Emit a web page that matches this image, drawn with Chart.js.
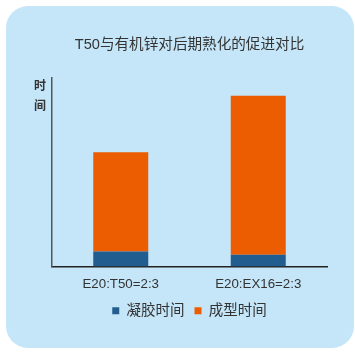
<!DOCTYPE html>
<html>
<head>
<meta charset="utf-8">
<script src="https://cdn.jsdelivr.net/npm/chart.js@4"></script>
<style>
html,body{margin:0;padding:0;background:#fff;}
#wrap{width:355px;height:353px;position:relative;}
</style>
</head>
<body>
<div id="wrap"><canvas id="c" width="355" height="353"></canvas></div>
<script>
const categories = ['E20:T50=2:3', 'E20:EX16=2:3'];
const seriesNames = ['凝胶时间', '成型时间'];
const gelTime = [8, 6.3];
const cureTime = [52.4, 84.1];
const yMax = 100;
const titleText = 'T50与有机锌对后期熟化的促进对比';
const yAxisLabel = ['时', '间'];

const FONT = '"Liberation Sans", "Noto Sans CJK SC", sans-serif';

const cardBg = {
  id: 'cardBg',
  beforeDraw(chart) {
    const ctx = chart.ctx;
    ctx.save();
    ctx.fillStyle = '#ffffff';
    ctx.fillRect(0, 0, chart.width, chart.height);
    ctx.fillStyle = '#c5e6f8';
    ctx.beginPath();
    ctx.roundRect(6, 6, 348, 342, 22);
    ctx.fill();
    ctx.restore();
  }
};

const yLabel = {
  id: 'yLabel',
  afterDraw(chart) {
    const ctx = chart.ctx;
    const a = chart.chartArea;
    ctx.save();
    ctx.fillStyle = '#333333';
    ctx.font = 'bold 12px ' + FONT;
    ctx.textAlign = 'center';
    ctx.textBaseline = 'middle';
    yAxisLabel.forEach((ch, i) => ctx.fillText(ch, a.left - 12, a.top + 9 + i * 20));
    ctx.restore();
  }
};

new Chart(document.getElementById('c'), {
  type: 'bar',
  data: {
    labels: categories,
    datasets: [
      { label: seriesNames[0], data: gelTime, backgroundColor: '#215e8f', borderWidth: 0 },
      { label: seriesNames[1], data: cureTime, backgroundColor: '#eb5d00', borderWidth: 0 }
    ]
  },
  options: {
    responsive: false,
    animation: false,
    devicePixelRatio: 1,
    layout: { padding: { left: 52, right: 28, top: 26, bottom: 25 } },
    datasets: { bar: { categoryPercentage: 0.8, barPercentage: 0.5 } },
    plugins: {
      title: {
        display: true,
        text: titleText,
        color: '#333333',
        font: { family: FONT, size: 14.6, weight: 'normal' },
        padding: { top: 10, bottom: 24 }
      },
      legend: {
        position: 'bottom',
        labels: {
          color: '#333333',
          boxWidth: 7,
          boxHeight: 7,
          padding: 10,
          font: { family: FONT, size: 14.5, weight: 'normal' }
        }
      },
      tooltip: { enabled: false }
    },
    scales: {
      x: {
        stacked: true,
        grid: { display: false, drawTicks: false },
        border: { display: true, color: '#222222', width: 1.5 },
        ticks: { color: '#333333', padding: 10, font: { family: FONT, size: 13.3 } },
        afterFit(scale) { scale.height = scale.height - 9; }
      },
      y: {
        stacked: true,
        min: 0,
        max: yMax,
        grid: { display: false, drawTicks: false },
        border: { display: true, color: '#555555', width: 1.5 },
        ticks: { display: false }
      }
    }
  },
  plugins: [cardBg, yLabel]
});
</script>
</body>
</html>
